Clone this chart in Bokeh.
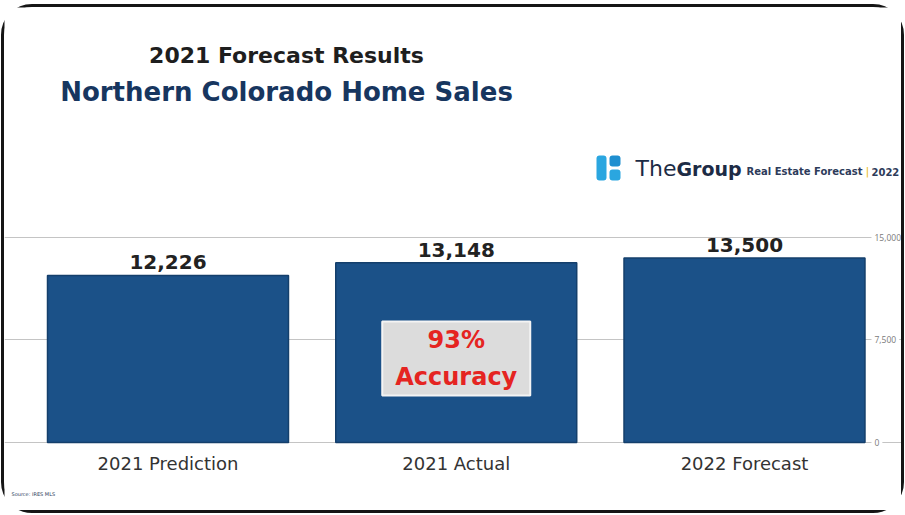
from bokeh.plotting import figure
from bokeh.models import Range1d, FixedTicker, Label, BoxAnnotation, Grid
from bokeh.core.properties import value
from bokeh.embed import file_html
from bokeh.resources import INLINE

# ---- data ----
categories = ["2021 Prediction", "2021 Actual", "2022 Forecast"]
home_sales = [12226, 13148, 13500]
value_labels = ["12,226", "13,148", "13,500"]
axis_ticks = [0, 7500, 15000]
axis_tick_labels = ["0", "7,500", "15,000"]
accuracy_pct = round(home_sales[0] / home_sales[1] * 100)

idx = list(range(len(categories)))

# ---- layout helpers (map reference pixel layout -> data space) ----
OX, OY = 4, 7          # element offset on the page
W, H = 897, 503
X0, X1 = -0.5672, 2.5447
Y0, Y1 = -4976, 31829


def px(ix):
    return X0 + (ix - OX) * (X1 - X0) / W


def py(iy):
    return Y1 - (iy - OY) * (Y1 - Y0) / H


p = figure(width=W, height=H, output_backend="svg", toolbar_location=None,
           x_range=Range1d(X0, X1), y_range=Range1d(Y0, Y1),
           x_axis_type=None, y_axis_type=None)
p.min_border = 0
p.outline_line_color = None
p.background_fill_color = "white"
p.border_fill_color = "white"
p.styles = {"margin-left": f"{OX}px", "margin-top": f"{OY}px",
            "outline": "3px solid #151515", "outline-offset": "0px",
            "border-radius": "28px"}

# grid lines at tick values
p.add_layout(Grid(dimension=1, ticker=FixedTicker(ticks=axis_ticks),
                  grid_line_color="#c4c4c4", grid_line_width=1))

# right-hand tick labels
p.text(x=[px(871)] * len(axis_ticks), y=axis_ticks, text=axis_tick_labels,
       text_align="left", text_baseline="middle",
       text_font=value("Open Sans"), text_font_size="8.5px", text_color="#7a7a7a",
       background_fill_color="white", padding=3)

# bars
p.vbar(x=idx, top=home_sales, bottom=0, width=0.836,
       fill_color="#1b5188", line_color="#143f6b", line_width=1.5)

# value labels
p.text(x=idx, y=home_sales, text=value_labels, y_offset=-6,
       text_align="center", text_baseline="bottom",
       text_font=value("DejaVu Sans"), text_font_style="bold",
       text_font_size="20px", text_color="#222222")

# category labels
p.text(x=idx, y=[0] * len(idx), text=categories, y_offset=21,
       text_align="center", text_baseline="middle",
       text_font=value("DejaVu Sans"), text_font_size="18px", text_color="#333333")

# accuracy box
p.add_layout(Label(x=idx[1], y=py(358), text=f"{accuracy_pct}%\nAccuracy",
                   text_align="center", text_baseline="middle",
                   text_font="DejaVu Sans", text_font_style="bold",
                   text_font_size="24px", text_color="#e52421",
                   text_line_height=1.35,
                   background_fill_color="#dcdcdc",
                   border_line_color="#f4f4f4", border_line_width=2,
                   padding=dict(left=13, right=13, top=4, bottom=4)))

# titles
p.add_layout(Label(x=px(286), y=py(55), text="2021 Forecast Results",
                   text_align="center", text_baseline="middle",
                   text_font="DejaVu Sans", text_font_style="bold",
                   text_font_size="22px", text_color="#1e1e1e"))
p.add_layout(Label(x=px(286), y=py(91), text="Northern Colorado Home Sales",
                   text_align="center", text_baseline="middle",
                   text_font="DejaVu Sans", text_font_style="bold",
                   text_font_size="26px", text_color="#17365f"))

# logo
p.add_layout(BoxAnnotation(left=px(596), right=px(606), top=py(155), bottom=py(180),
                           fill_color="#2aa6e0", fill_alpha=1, line_color=None, border_radius=3))
p.add_layout(BoxAnnotation(left=px(609), right=px(620), top=py(155), bottom=py(166),
                           fill_color="#1f8fd0", fill_alpha=1, line_color=None, border_radius=3))
p.add_layout(BoxAnnotation(left=px(609), right=px(620), top=py(169), bottom=py(180),
                           fill_color="#2aa6e0", fill_alpha=1, line_color=None, border_radius=3))
p.add_layout(Label(x=px(676), y=py(168), text="The", text_align="right", text_baseline="middle",
                   text_font="DejaVu Sans", text_font_size="22px", text_color="#1c2b45"))
p.add_layout(Label(x=px(676), y=py(168), text="Group", text_align="left", text_baseline="middle",
                   text_font="DejaVu Sans", text_font_style="bold", text_font_size="19px",
                   text_color="#1c2b45"))
p.add_layout(Label(x=px(746), y=py(171), text="Real Estate Forecast", text_align="left",
                   text_baseline="middle", text_font="DejaVu Sans", text_font_style="bold",
                   text_font_size="10px", text_color="#2d3b5a"))
p.add_layout(Label(x=px(867), y=py(171), text="|", text_align="center",
                   text_baseline="middle", text_font="DejaVu Sans",
                   text_font_size="10px", text_color="#e8b400"))
p.add_layout(Label(x=px(871), y=py(171), text="2022", text_align="left",
                   text_baseline="middle", text_font="DejaVu Sans", text_font_style="bold",
                   text_font_size="10px", text_color="#2d3b5a"))

# source
p.add_layout(Label(x=px(11), y=py(493), text="Source: IRES MLS", text_align="left",
                   text_baseline="middle", text_font="DejaVu Sans",
                   text_font_size="5px", text_color="#2d3b5a"))

open("out.html", "w").write(file_html(p, INLINE))
